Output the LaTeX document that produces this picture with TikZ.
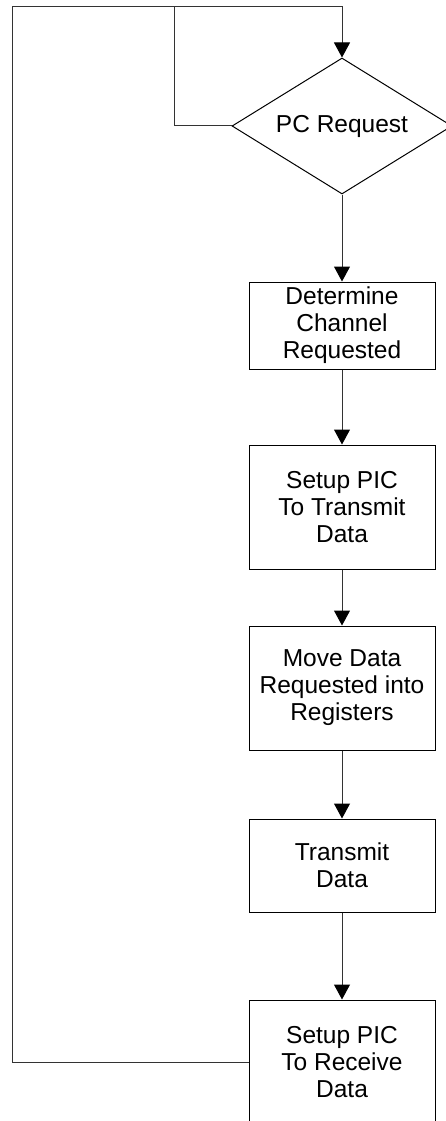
\documentclass[tikz,border=0pt]{standalone}
\usepackage{fontspec}
\setmainfont{Liberation Sans}
\usepackage{tikz}
\usetikzlibrary{arrows.meta,shapes.geometric,positioning}

\begin{document}
\begin{tikzpicture}[
  x=1pt, y=-1pt,
  step box/.style={rectangle, draw=black, line width=1pt, minimum width=186pt, align=center, inner sep=0pt, font=\fontsize{24.5}{27}\selectfont},
  decision/.style={diamond, draw=black, line width=1pt, aspect=1.6, minimum width=220pt, minimum height=136pt, inner sep=0pt, font=\fontsize{24.5}{27}\selectfont},
  flow/.style={line width=1pt, draw=black!80},
  >={Triangle[length=15pt,width=16pt,color=black]}
]
  \useasboundingbox (0,0) rectangle (446,1121);
  \node[decision] (req) at (342,126) {PC Request};
  \node[step box, minimum height=87pt]  (chan)  at (342,325.5) {Determine\\Channel\\Requested};
  \node[step box, minimum height=124pt] (settx) at (342,507)   {Setup PIC\\To Transmit\\Data};
  \node[step box, minimum height=124pt] (move)  at (342,688)   {Move Data\\Requested into\\Registers};
  \node[step box, minimum height=93pt]  (xmit)  at (342,865.5) {Transmit\\Data};
  \node[step box, minimum height=124pt] (setrx) at (342,1062)  {Setup PIC\\To Receive\\Data};
  % main flow
  \draw[flow, ->] (req) -- (chan);
  \draw[flow, ->] (chan) -- (settx);
  \draw[flow, ->] (settx) -- (move);
  \draw[flow, ->] (move) -- (xmit);
  \draw[flow, ->] (xmit) -- (setrx);
  % loops back to the request
  \coordinate (wait top) at (174,7);
  \coordinate (back top) at (12,7);
  \draw[flow, ->] (req.west) -| (wait top) -| (req.north);
  \draw[flow] (setrx.west) -| (back top) -- (wait top);
\end{tikzpicture}
\end{document}
